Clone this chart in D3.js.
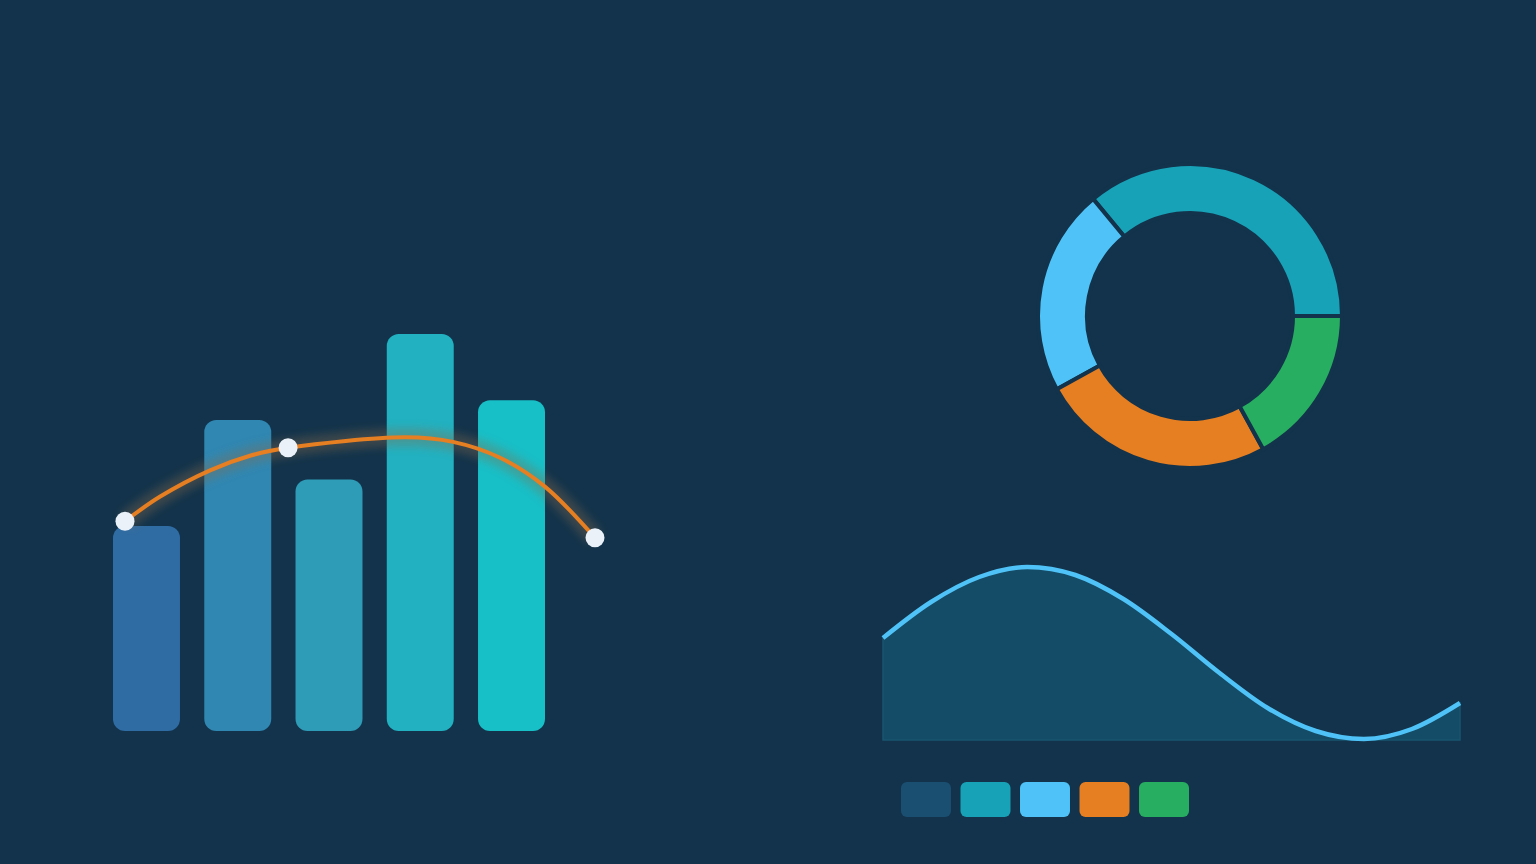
<!DOCTYPE html>
<html>
<head>
<meta charset="utf-8">
<script src="https://cdn.jsdelivr.net/npm/d3@7"></script>
<style>
  html, body { margin: 0; padding: 0; background: #12334b; }
  svg { display: block; }
</style>
</head>
<body>
<div id="chart"></div>
<script>
// DATA //
const barValues = [31, 47, 38, 60, 50];
const barColors = ["#2f6ca3", "#2f87b2", "#2e9bb7", "#21b1c1", "#17bfc7"];

// orange trend line (x on 0-100, y on bar scale), dots only on some points
const lineX = [0, 7.4, 18.1, 26.6, 34.7, 59.6, 69.8, 79.8, 89.4, 100];
const lineY = [31.7, 35.4, 39.4, 41.6, 42.8, 44.4, 43.7, 41.3, 36.9, 29.2];
const lineDots = [0, 4, 9];

// donut, drawn counter-clockwise from 3 o'clock
const donutValues = [36, 22, 25, 17];
const donutColors = ["#17a2b8", "#4fc3f7", "#e67e22", "#27ae60"];

// area curve
const areaValues = [102, 138, 163, 173, 165, 141, 106, 67, 32, 9, 1, 11, 37];

// legend swatches
const legendColors = ["#1b4f72", "#17a2b8", "#4fc3f7", "#e67e22", "#27ae60"];

const bg = "#12334b";

// SVG //
const svg = d3.select("#chart").append("svg")
    .attr("width", 1536)
    .attr("height", 864);

svg.append("rect").attr("width", 1536).attr("height", 864).attr("fill", bg);

const defs = svg.append("defs");
defs.append("filter")
    .attr("id", "glow")
    .attr("x", "-20%").attr("y", "-50%").attr("width", "140%").attr("height", "200%")
  .append("feGaussianBlur")
    .attr("stdDeviation", 4);

// BARS //
const xBar = d3.scaleBand()
    .domain(d3.range(barValues.length))
    .range([113, 545])
    .paddingInner(0.266)
    .paddingOuter(0);

const yBar = d3.scaleLinear()
    .domain([0, 60])
    .range([731, 334]);

svg.append("g").selectAll("rect")
    .data(barValues)
    .join("rect")
    .attr("x", (d, i) => xBar(i))
    .attr("y", d => yBar(d))
    .attr("width", xBar.bandwidth())
    .attr("height", d => yBar(0) - yBar(d))
    .attr("rx", 12)
    .attr("fill", (d, i) => barColors[i]);

// LINE //
const xLine = d3.scaleLinear().domain([0, 100]).range([125, 595]);
const linePts = lineX.map((x, i) => [xLine(x), yBar(lineY[i])]);

const lineGen = d3.line().curve(d3.curveCatmullRom.alpha(0.5));

// soft halo under the line
svg.append("path")
    .attr("d", lineGen(linePts))
    .attr("fill", "none")
    .attr("stroke", "#8a6a4a")
    .attr("stroke-opacity", 0.35)
    .attr("stroke-width", 18)
    .attr("filter", "url(#glow)");

svg.append("path")
    .attr("d", lineGen(linePts))
    .attr("fill", "none")
    .attr("stroke", "#e67e22")
    .attr("stroke-width", 4)
    .attr("stroke-linecap", "round");

svg.append("g").selectAll("circle")
    .data(lineDots)
    .join("circle")
    .attr("cx", i => linePts[i][0])
    .attr("cy", i => linePts[i][1])
    .attr("r", 9.5)
    .attr("fill", "#eaf1f8");

// DONUT //
const pie = d3.pie()
    .sort(null)
    .startAngle(Math.PI / 2)
    .endAngle(Math.PI / 2 - 2 * Math.PI);

const arc = d3.arc().innerRadius(103).outerRadius(152);

svg.append("g")
    .attr("transform", "translate(1190,316)")
  .selectAll("path")
    .data(pie(donutValues))
    .join("path")
    .attr("d", arc)
    .attr("fill", (d, i) => donutColors[i])
    .attr("stroke", bg)
    .attr("stroke-width", 4);

// AREA //
const xArea = d3.scaleLinear().domain([0, areaValues.length - 1]).range([883, 1460]);
const yArea = d3.scaleLinear().domain([0, 200]).range([740, 540]);

svg.append("path")
    .datum(areaValues)
    .attr("d", d3.area()
        .x((d, i) => xArea(i))
        .y0(yArea(0))
        .y1(d => yArea(d))
        .curve(d3.curveMonotoneX))
    .attr("fill", "#144b66")
    .attr("stroke", "#19566f")
    .attr("stroke-width", 1.5);

svg.append("path")
    .datum(areaValues)
    .attr("d", d3.line()
        .x((d, i) => xArea(i))
        .y(d => yArea(d))
        .curve(d3.curveMonotoneX))
    .attr("fill", "none")
    .attr("stroke", "#4fc3f7")
    .attr("stroke-width", 4.5);

// LEGEND //
const xLegend = d3.scaleBand()
    .domain(d3.range(legendColors.length))
    .range([901, 1189])
    .paddingInner(0.16);

svg.append("g").selectAll("rect")
    .data(legendColors)
    .join("rect")
    .attr("x", (d, i) => xLegend(i))
    .attr("y", 782)
    .attr("width", xLegend.bandwidth())
    .attr("height", 35)
    .attr("rx", 6)
    .attr("fill", d => d);
</script>
</body>
</html>
